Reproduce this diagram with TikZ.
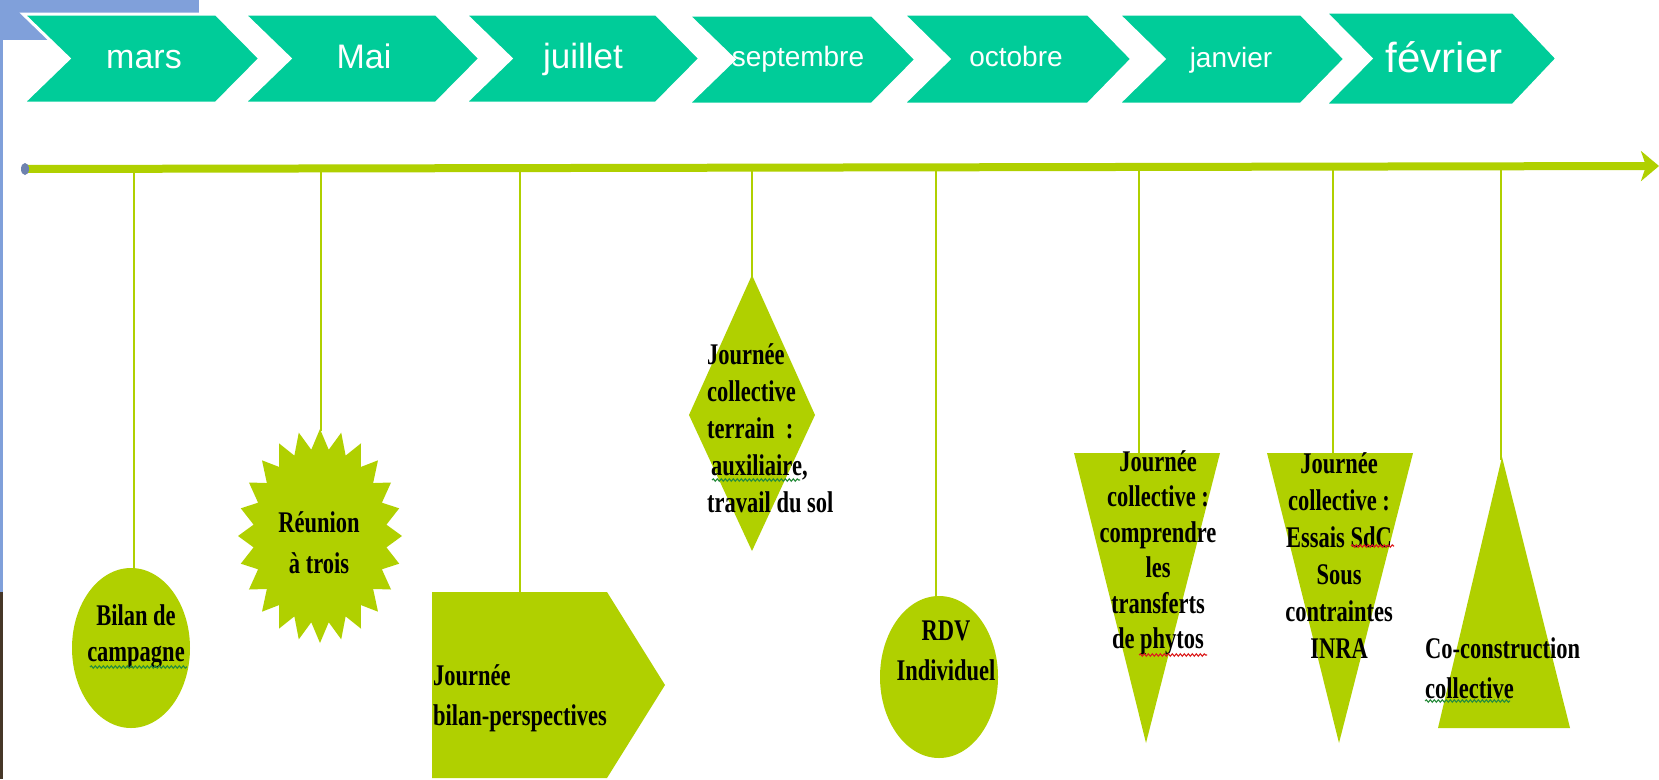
\documentclass[tikz,border=0pt]{standalone}
\usepackage{fontspec}
\setmainfont{Liberation Serif}
\newfontfamily\chevfont{Liberation Sans}
\newfontfamily\condfont[FakeStretch=0.75]{Liberation Serif}
\usetikzlibrary{arrows.meta,decorations.pathmorphing}
\definecolor{tlTeal}{RGB}{0,204,153}
\definecolor{tlLime}{RGB}{176,208,0}
\definecolor{tlBlue}{RGB}{128,160,218}
\definecolor{tlDot}{RGB}{110,130,175}
\definecolor{tlDark}{RGB}{70,55,40}
\definecolor{tlSpellRed}{RGB}{220,30,30}
\definecolor{tlSpellGreen}{RGB}{40,140,60}
\tikzset{
  chevron/.style={fill=tlTeal, draw=white, line width=3pt, line join=miter},
  chevtext/.style={text=white, anchor=base, inner sep=0pt},
  shapefill/.style={fill=tlLime},
  conn/.style={draw=tlLime, line width=2pt},
  timeline/.style={draw=tlLime, line width=8pt, -{Stealth[length=18pt,width=30pt,inset=5pt]}},
  stext/.style={inner sep=0pt, text=black, font={\condfont\bfseries\fontsize{30pt}{#1}\selectfont}},
  stext/.default={37pt},
  spell/.style={line width=1.1pt, decorate, decoration={snake, amplitude=1.2pt, segment length=4pt}}
}
\begin{document}
\begin{tikzpicture}[x=1pt,y=-1pt]
\useasboundingbox (0,0) rectangle (1659,779);
\fill[white] (0,0) rectangle (1659,779);
% background decorations at the left edge
\fill[tlBlue] (0,0) rectangle (199,40);
\fill[tlBlue] (0,0) rectangle (3,592);
\fill[tlDark] (0,592) rectangle (3,779);

% month chevrons
\foreach \l/\r/\t/\b/\cx/\by/\fs/\txt/\n in {
  23/216/14/103/144/68/34/mars/1,
  244/436/14/103/364/68/34/Mai/2,
  465/656/14/103/583/68/35/juillet/3,
  688/872/15/104/798/66/28/septembre/4,
  903/1088/14/104/1016/66/28/octobre/5,
  1118/1301/14/104/1231/67/28/janvier/6,
  1325/1513/12/105/1444/72/42/février/7}{
  \path[chevron] (\l,\t) -- (\r,\t) -- ({\r+44},{(\t+\b)/2}) -- (\r,\b) -- (\l,\b) -- ({\l+46},{(\t+\b)/2}) -- cycle;
  \node[chevtext, font={\chevfont\fontsize{\fs pt}{\fs pt}\selectfont}] (m\n) at (\cx,\by) {\txt};
}

% timeline
\coordinate (tstart) at (25,169);
\coordinate (tend) at (1659,166);
\draw[timeline] (tstart) -- (tend);
\fill[tlDot] (tstart) ellipse (4 and 6);

% tick points on the timeline
\coordinate (t1) at (134,168);
\coordinate (t2) at (321,168);
\coordinate (t3) at (520,168);
\coordinate (t4) at (752,168);
\coordinate (t5) at (936,168);
\coordinate (t6) at (1139,168);
\coordinate (t7) at (1333,168);
\coordinate (t8) at (1501,168);

% shapes
% 1 ellipse
\fill[shapefill] (131,648) ellipse (59 and 80);
\coordinate (s1) at (134,570);
% 2 star
\fill[shapefill] (320,429) \foreach \i in {1,...,47} {
  -- ({320+ifthenelse(mod(\i,2)==0,82,67)*sin(\i*7.5)},{536-ifthenelse(mod(\i,2)==0,107,87)*cos(\i*7.5)}) } -- cycle;
\coordinate (s2) at (321,431);
% 3 pentagon arrow
\fill[shapefill] (432,592) -- (607,592) -- (665,685) -- (607,778) -- (432,778) -- cycle;
\coordinate (s3) at (520,592);
% 4 diamond
\fill[shapefill] (752,275) -- (815,415) -- (752,551) -- (689,415) -- cycle;
\coordinate (s4) at (752,277);
% 5 ellipse
\fill[shapefill] (939,677) ellipse (59 and 81);
\coordinate (s5) at (936,598);
% 6 inverted triangle
\fill[shapefill] (1074,453) -- (1220,453) -- (1146,743) -- cycle;
\coordinate (s6) at (1139,453);
% 7 inverted triangle
\fill[shapefill] (1267,453) -- (1413,453) -- (1339,743) -- cycle;
\coordinate (s7) at (1333,453);
% 8 triangle
\fill[shapefill] (1502,457) -- (1570,728) -- (1438,728) -- cycle;
\coordinate (s8) at (1501,460);

% connectors
\foreach \k in {1,...,8} { \draw[conn] (t\k) -- (s\k); }

% texts
\node[stext={36pt}, align=center] (b1) at (136,636) {Bilan de\\campagne};
\node[stext={41pt}, align=center] (b2) at (319,543) {Réunion\\à trois};
\node[stext={40pt}, align=left, anchor=west] (b3) at (433,698) {Journée\\bilan-perspectives};
\node[stext={37pt}, align=left, anchor=west] (b4) at (707,428) {Journée\\collective\\terrain~ :\\\hspace{4pt}auxiliaire,\\travail du sol};
\node[stext={40pt}, align=center] (b5) at (946,651) {RDV\\Individuel};
\node[stext={35.5pt}, align=center] (b6) at (1158,553) {Journée\\collective :\\comprendre\\les\\transferts\\de phytos};
\node[stext={37pt}, align=center] (b7) at (1339,556) {Journée\\collective :\\Essais SdC\\Sous\\contraintes\\INRA};
\node[stext={40pt}, align=left, anchor=west] (b8) at (1425,668) {Co-construction\\collective};

% spell-check underlines
\draw[spell, tlSpellRed] (1351,546) -- (1394,546);
\draw[spell, tlSpellRed] (1139,655) -- (1207,655);
\draw[spell, tlSpellGreen] (90,667) -- (187,667);
\draw[spell, tlSpellGreen] (712,480) -- (800,480);
\draw[spell, tlSpellGreen] (1425,701) -- (1510,701);
\end{tikzpicture}
\end{document}
